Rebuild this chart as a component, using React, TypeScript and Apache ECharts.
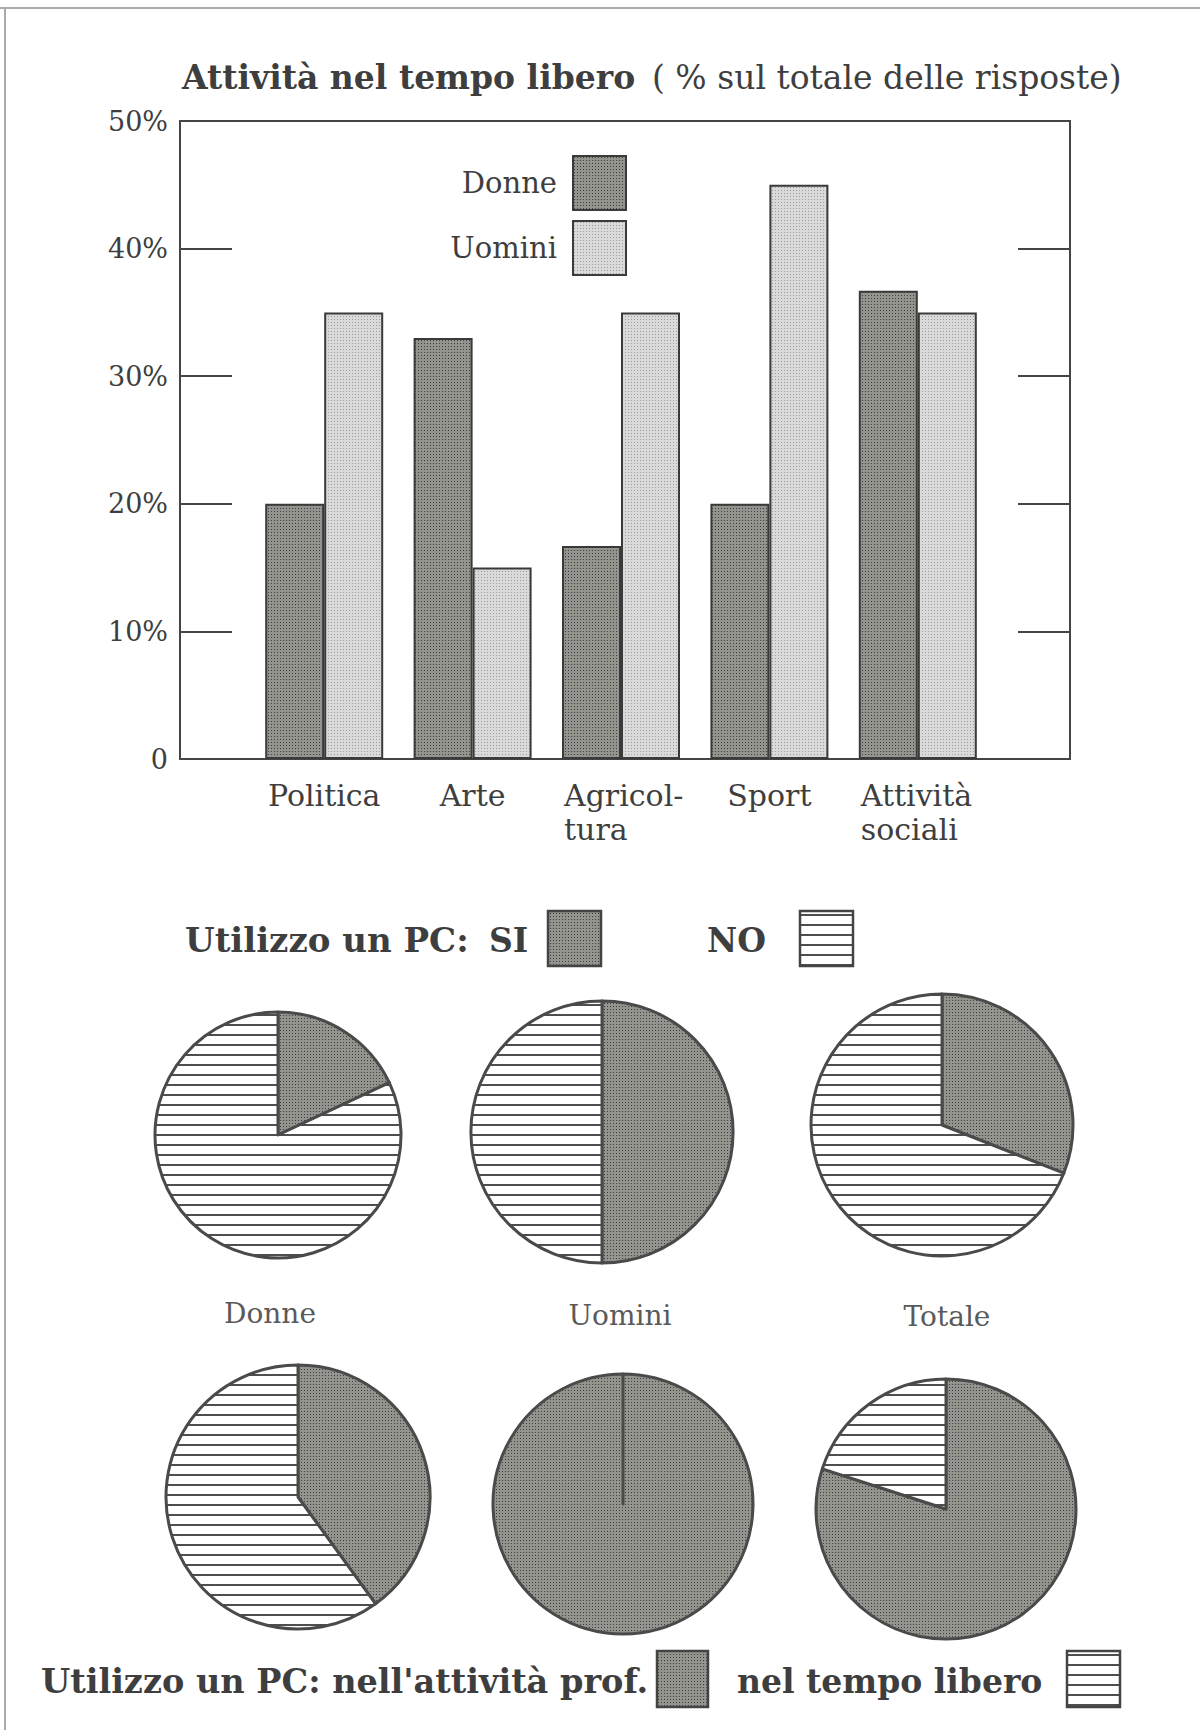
import React, { useEffect, useRef } from 'react';
import * as echarts from 'echarts';

// ---------- data ----------
const categories = ['Politica', 'Arte', 'Agricol-\ntura', 'Sport', 'Attività\nsociali'];
const donneValues = [20, 33, 16.7, 20, 36.7];
const uominiValues = [35, 15, 35, 45, 35];
const barSeriesNames = ['Donne', 'Uomini'];
const yTickLabels = ['0', '10%', '20%', '30%', '40%', '50%'];

const pieGroups = ['Donne', 'Uomini', 'Totale'];
const pcSi = [18, 50, 31];
const pcNo = [82, 50, 69];
const usoProf = [40, 100, 80];
const usoLibero = [60, 0, 20];

const titleBold = 'Attività nel tempo libero';
const titleRegular = '( % sul totale delle risposte)';
const pcLegendLabel = 'Utilizzo un PC:';
const pcLegendSi = 'SI';
const pcLegendNo = 'NO';
const useLegendProf = "Utilizzo un PC: nell'attività prof.";
const useLegendLibero = 'nel tempo libero';

// ---------- layout / style ----------
const FONT = "'DejaVu Serif', 'Liberation Serif', serif";
const TEXT = '#3e3e3e';
const topPieLayout = [
  { cx: 278, cy: 1135, r: 123 },
  { cx: 602, cy: 1132, r: 131 },
  { cx: 942, cy: 1125, r: 131 },
];
const bottomPieLayout = [
  { cx: 298, cy: 1497, r: 132 },
  { cx: 623, cy: 1504, r: 130 },
  { cx: 946, cy: 1509, r: 130 },
];
const captionPos = [
  { x: 270, y: 1313 },
  { x: 620, y: 1315 },
  { x: 947, y: 1316 },
];

function makePattern(w: number, h: number, draw: (ctx: CanvasRenderingContext2D) => void) {
  const c = document.createElement('canvas');
  c.width = w;
  c.height = h;
  const ctx = c.getContext('2d') as CanvasRenderingContext2D;
  draw(ctx);
  return { image: c, repeat: 'repeat', imageWidth: w, imageHeight: h } as any;
}

export default function App() {
  const ref = useRef<HTMLDivElement>(null);

  useEffect(() => {
    if (!ref.current) return;
    const chart = echarts.init(ref.current, undefined, { renderer: 'svg' });

    const darkFill = makePattern(3, 3, (ctx) => {
      ctx.fillStyle = '#94948f';
      ctx.fillRect(0, 0, 3, 3);
      ctx.fillStyle = '#404040';
      ctx.fillRect(1, 1, 1, 1);
    });
    const lightFill = makePattern(3, 3, (ctx) => {
      ctx.fillStyle = '#dadada';
      ctx.fillRect(0, 0, 3, 3);
      ctx.fillStyle = '#9c9c9c';
      ctx.fillRect(1, 1, 1, 1);
    });
    const hatchFill = makePattern(10, 10, (ctx) => {
      ctx.fillStyle = '#ffffff';
      ctx.fillRect(0, 0, 10, 10);
      ctx.fillStyle = '#4e4e4e';
      ctx.fillRect(0, 4, 10, 2);
    });

    const textEl = (text: string, x: number, y: number, size: number, weight: string, align = 'left', fill = TEXT) => ({
      type: 'text',
      silent: true,
      style: {
        text,
        x,
        y,
        fontSize: size,
        fontWeight: weight,
        fontFamily: FONT,
        fill,
        align,
        verticalAlign: 'middle',
      },
    });
    const boxEl = (x: number, y: number, w: number, h: number, fill: any) => ({
      type: 'rect',
      silent: true,
      shape: { x, y, width: w, height: h },
      style: { fill, stroke: '#444', lineWidth: 2.5 },
    });

    const tickStyle = { show: true, inside: true, length: 52, lineStyle: { color: '#444', width: 2 } };

    const pieSeries: any[] = [];
    pieGroups.forEach((g, i) => {
      const t = topPieLayout[i];
      pieSeries.push({
        type: 'pie',
        name: 'pc-' + g,
        center: [t.cx, t.cy],
        radius: t.r,
        startAngle: 90,
        clockwise: true,
        silent: true,
        label: { show: false },
        labelLine: { show: false },
        itemStyle: { borderColor: '#4a4a4a', borderWidth: 3 },
        data: [
          { name: pcLegendSi, value: pcSi[i], itemStyle: { color: darkFill } },
          { name: pcLegendNo, value: pcNo[i], itemStyle: { color: hatchFill } },
        ],
      });
      const b = bottomPieLayout[i];
      pieSeries.push({
        type: 'pie',
        name: 'uso-' + g,
        center: [b.cx, b.cy],
        radius: b.r,
        startAngle: 90,
        clockwise: true,
        silent: true,
        label: { show: false },
        labelLine: { show: false },
        itemStyle: { borderColor: '#4a4a4a', borderWidth: 3 },
        data: [
          { name: 'prof', value: usoProf[i], itemStyle: { color: darkFill } },
          { name: 'libero', value: usoLibero[i], itemStyle: { color: hatchFill } },
        ],
      });
    });

    const option: any = {
      animation: false,
      backgroundColor: '#ffffff',
      textStyle: { fontFamily: FONT },
      grid: [
        { left: 180, top: 121, width: 890, height: 638, show: true, borderColor: '#444', borderWidth: 2, backgroundColor: 'transparent' },
        { left: 250, top: 121, width: 742, height: 638 },
      ],
      xAxis: [
        { gridIndex: 0, type: 'value', min: 0, max: 1, show: false },
        {
          gridIndex: 1,
          type: 'category',
          data: categories,
          axisLine: { show: false },
          axisTick: { show: false },
          axisLabel: {
            interval: 0,
            margin: 19,
            fontSize: 30,
            lineHeight: 34,
            color: TEXT,
            fontFamily: FONT,
            formatter: (v: string) =>
              v.indexOf('\n') >= 0 ? v.split('\n').map((s) => '{m|' + s + '}').join('\n') : v,
            rich: {
              m: { width: 114, align: 'left', fontSize: 30, lineHeight: 34, color: TEXT, fontFamily: FONT },
            },
          },
        },
      ],
      yAxis: [
        {
          gridIndex: 0,
          type: 'value',
          min: 0,
          max: 50,
          interval: 10,
          position: 'left',
          axisLine: { show: false },
          axisTick: tickStyle,
          splitLine: { show: false },
          axisLabel: {
            margin: 12,
            fontSize: 27,
            color: TEXT,
            fontFamily: FONT,
            formatter: (v: number) => yTickLabels[Math.round(v / 10)],
          },
        },
        {
          gridIndex: 0,
          type: 'value',
          min: 0,
          max: 50,
          interval: 10,
          position: 'right',
          axisLine: { show: false },
          axisTick: tickStyle,
          splitLine: { show: false },
          axisLabel: { show: false },
        },
        { gridIndex: 1, type: 'value', min: 0, max: 50, show: false },
      ],
      legend: {
        data: barSeriesNames,
        orient: 'vertical',
        right: 573,
        top: 155,
        padding: 0,
        align: 'right',
        icon: 'rect',
        itemWidth: 53,
        itemHeight: 54,
        itemGap: 9,
        selectedMode: false,
        textStyle: { fontSize: 29, color: TEXT, fontFamily: FONT, padding: [0, 11, 6, 0] },
      },
      series: [
        {
          type: 'bar',
          name: barSeriesNames[0],
          xAxisIndex: 1,
          yAxisIndex: 2,
          data: donneValues,
          barWidth: 59,
          barGap: '0%',
          itemStyle: { color: darkFill, borderColor: '#3a3a3a', borderWidth: 2 },
        },
        {
          type: 'bar',
          name: barSeriesNames[1],
          xAxisIndex: 1,
          yAxisIndex: 2,
          data: uominiValues,
          barWidth: 59,
          barGap: '0%',
          itemStyle: { color: lightFill, borderColor: '#3a3a3a', borderWidth: 2 },
        },
        ...pieSeries,
      ],
      graphic: [
        { type: 'line', silent: true, shape: { x1: 0, y1: 8, x2: 1200, y2: 8 }, style: { stroke: '#aaaaaa', lineWidth: 2 } },
        { type: 'line', silent: true, shape: { x1: 5, y1: 8, x2: 5, y2: 1730 }, style: { stroke: '#aaaaaa', lineWidth: 2 } },
        textEl(titleBold, 182, 77, 33, 'bold'),
        textEl(titleRegular, 652, 77, 33, 'normal'),
        textEl(pcLegendLabel, 185, 940, 34, 'bold'),
        textEl(pcLegendSi, 489, 940, 33, 'bold'),
        boxEl(548, 911, 53, 55, darkFill),
        textEl(pcLegendNo, 707, 940, 33, 'bold'),
        boxEl(800, 911, 53, 55, hatchFill),
        ...pieGroups.map((g, i) => textEl(g, captionPos[i].x, captionPos[i].y, 28, 'normal', 'center', '#5a5a5a')),
        textEl(useLegendProf, 41, 1681, 33.5, 'bold'),
        boxEl(657, 1651, 51, 56, darkFill),
        textEl(useLegendLibero, 737, 1681, 33, 'bold'),
        boxEl(1067, 1651, 53, 56, hatchFill),
      ],
    };

    chart.setOption(option);
    return () => chart.dispose();
  }, []);

  return (
    <div
      ref={ref}
      style={{ position: 'absolute', left: 0, top: 0, width: 1200, height: 1730, background: '#fff' }}
    />
  );
}
